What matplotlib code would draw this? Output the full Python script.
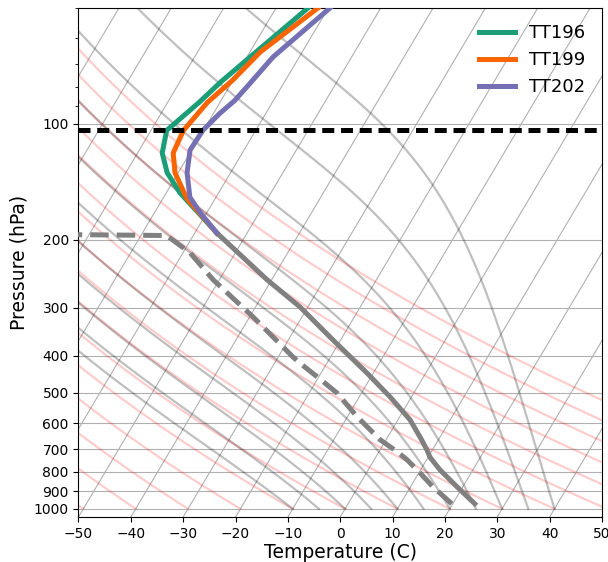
import numpy as np
import matplotlib
matplotlib.use('Agg')
import matplotlib.pyplot as plt
import matplotlib.transforms as mtransforms
from matplotlib.ticker import MultipleLocator, FormatStrFormatter, NullFormatter

# Lower troposphere (shared by all runs)
temp_p = [970, 877, 792, 735, 704, 662, 587, 512, 444, 364, 299, 254, 192]
temp_t = [24.2, 18.9, 13.7, 10.4, 9.0, 6.8, 2.3, -4.1, -11.2, -21.5, -31.5, -40.9, -55.8]

dew_p = [970, 877, 806, 746, 711, 662, 577, 500, 454, 418, 403, 317, 254, 216, 195, 193]
dew_t = [19.8, 14.3, 10.2, 6.3, 3.5, -1.1, -8.1, -14.7, -20.3, -25.2, -27.2, -39.4,
         -51.2, -58.7, -65.1, -100.0]

# Upper part for each run
tt196_p = [192, 172, 151, 134, 119, 104, 88, 78, 66, 50]
tt196_t = [-55.8, -61.1, -67.4, -72.1, -75.3, -77.0, -74.0, -72.2, -69.1, -63.9]

tt199_p = [192, 171, 156, 134, 119, 104, 88, 77, 65, 50]
tt199_t = [-55.8, -61.2, -65.5, -70.6, -73.2, -73.8, -72.4, -70.1, -68.0, -62.0]

tt202_p = [192, 170, 155, 134, 117, 104, 94, 87, 80, 67, 50]
tt202_t = [-55.8, -61.3, -65.0, -68.3, -70.3, -70.1, -68.8, -67.4, -66.6, -65.0, -59.7]

runs = ['TT196', 'TT199', 'TT202']
run_colors = ['#1b9e77', '#f86400', '#7570b3']

trop_p = 104

# background lines (starting temperatures at 1000 hPa)
dry_t0 = np.arange(-50, 110, 10)
moist_t0 = [-10, -5, 0, 5, 10, 15, 20, 25, 30, 35, 40]


def theta_e(tk, p):
    es = 6.112 * np.exp(17.67 * (tk - 273.15) / (tk - 29.65))
    rs = 0.622 * es / (p - es)
    return tk * (1000.0 / p) ** 0.2857 * np.exp(2.5e6 * rs / (1005.0 * tk)), es


def moist_adiabat(t0, p):
    # line of constant equivalent potential temperature through (t0, 1000 hPa)
    target, _ = theta_e(t0 + 273.15, 1000.0)
    tk = np.arange(150.0, 330.0, 0.05)
    out = []
    for pp in p:
        th, es = theta_e(tk, pp)
        ok = es < 0.2 * pp
        out.append(np.interp(target, th[ok], tk[ok]))
    return np.array(out) - 273.15


fig = plt.figure(figsize=(6.08, 5.62), dpi=100)
ax = fig.add_axes([0.1291, 0.0801, 0.861, 0.9057])
ax.set_yscale('log')
ax.set_xlim(-50, 50)
ax.set_ylim(1050, 50)

# skew-T: shear in axes coordinates after the log scaling
skew = ax.transScale + (ax.transLimits + mtransforms.Affine2D().skew_deg(30, 0) + ax.transAxes)

# isotherms
for t in np.arange(-160, 60, 10):
    ax.plot([t, t], [1050, 50], transform=skew, color='#b0b0b0', lw=0.8, zorder=1)

p_adiab = np.logspace(np.log10(1000), np.log10(50), 150)
for t0 in dry_t0:
    t = (t0 + 273.15) * (p_adiab / 1000.0) ** 0.2857 - 273.15
    ax.plot(t, p_adiab, transform=skew, color='r', alpha=0.2, lw=1.6, zorder=1)

for t0 in moist_t0:
    t = moist_adiabat(t0, p_adiab)
    ax.plot(t, p_adiab, transform=skew, color='k', alpha=0.25, lw=1.6, zorder=1)

ax.plot(temp_t, temp_p, transform=skew, color='gray', lw=3.6, zorder=3)
ax.plot(dew_t, dew_p, transform=skew, color='gray', lw=3.6, ls='--', zorder=3)

for name, col, pp, tt in zip(runs, run_colors,
                             [tt196_p, tt199_p, tt202_p],
                             [tt196_t, tt199_t, tt202_t]):
    ax.plot(tt, pp, transform=skew, color=col, lw=3.6, label=name, zorder=3)

ax.axhline(trop_p, color='k', lw=3.6, ls=(0, (2.4, 1.35)), zorder=4)

ax.set_xlim(-50, 50)
ax.set_ylim(1050, 50)
ax.xaxis.set_major_locator(MultipleLocator(10))
ax.yaxis.set_major_locator(MultipleLocator(100))
ax.yaxis.set_major_formatter(FormatStrFormatter('%d'))
ax.yaxis.set_minor_formatter(NullFormatter())
ax.yaxis.grid(True, which='major', color='#b0b0b0', lw=0.8)
ax.set_axisbelow(True)
ax.tick_params(labelsize=10)

ax.set_xlabel('Temperature (C)', fontsize=13.5, labelpad=1.5)
ax.set_ylabel('Pressure (hPa)', fontsize=13.5)
ax.legend(loc='upper right', frameon=False, fontsize=13)

fig.savefig('out.png', dpi=100)
